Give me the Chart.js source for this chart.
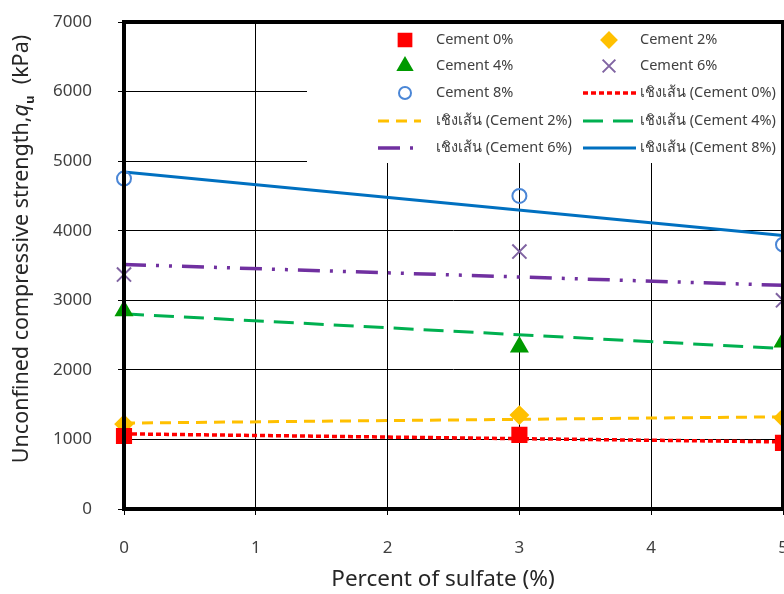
<!DOCTYPE html>
<html lang="th">
<head>
<meta charset="UTF-8">
<title>Unconfined compressive strength vs sulfate</title>
<style>
    body { margin: 0; background: #fff; }
    #wrap { width: 784px; height: 594px; overflow: hidden; }
</style>
</head>
<body>
<div id="wrap"><canvas id="myChart" width="820" height="594"></canvas></div>

<script src="https://cdn.jsdelivr.net/npm/chart.js"></script>
<script>
    // measured points
    const sulfate = [0, 3, 5];
    const cement0 = [1050, 1065, 950];
    const cement2 = [1220, 1350, 1310];
    const cement4 = [2850, 2330, 2400];
    const cement6 = [3370, 3700, 3000];
    const cement8 = [4750, 4500, 3800];

    // linear trend lines (end points)
    const trendX = [0, 5];
    const trend0 = [1080, 965];
    const trend2 = [1235, 1325];
    const trend4 = [2805, 2305];
    const trend6 = [3515, 3215];
    const trend8 = [4845, 3930];

    const xTicks = [0, 1, 2, 3, 4, 5];
    const yTicks = [0, 1000, 2000, 3000, 4000, 5000, 6000, 7000];

    const labels = ['Cement 0%', 'Cement 2%', 'Cement 4%', 'Cement 6%', 'Cement 8%'];
    const trendPrefix = 'เชิงเส้น';
    const xTitle = 'Percent of sulfate (%)';

    const FONT = "'Noto Sans', 'DejaVu Sans', sans-serif";

    function pts(xs, ys) {
        return xs.map((x, i) => ({ x: x, y: ys[i] }));
    }

    const markerSets = [
        { data: cement0, pointStyle: 'rect', radius: 10, color: '#ff0000', fill: true },
        { data: cement2, pointStyle: 'rectRot', radius: 8.5, color: '#ffc000', fill: true },
        { data: cement4, pointStyle: 'triangle', radius: 9, color: '#009a00', fill: true },
        { data: cement6, pointStyle: 'crossRot', radius: 10, color: '#8064a2', fill: false },
        { data: cement8, pointStyle: 'circle', radius: 7, color: '#4a86d6', fill: false }
    ];
    const trendSets = [
        { data: trend0, color: '#ff0000', dash: [5, 3], width: 3.5 },
        { data: trend2, color: '#ffc000', dash: [11, 7], width: 3 },
        { data: trend4, color: '#00b050', dash: [20, 10], width: 3 },
        { data: trend6, color: '#7030a0', dash: [22, 10, 3, 10, 3, 10], width: 3.5 },
        { data: trend8, color: '#0070c0', dash: [], width: 3 }
    ];

    let datasets = [];
    markerSets.forEach((m, i) => {
        datasets.push({
            label: labels[i],
            data: pts(sulfate, m.data),
            showLine: false,
            pointStyle: m.pointStyle,
            pointRadius: m.radius,
            pointHoverRadius: m.radius,
            pointBorderWidth: 2,
            borderColor: m.color,
            backgroundColor: m.fill ? m.color : 'rgba(0,0,0,0)',
            clip: false,
            order: 0
        });
    });
    trendSets.forEach((t, i) => {
        datasets.push({
            label: trendPrefix + ' (' + labels[i] + ')',
            data: pts(trendX, t.data),
            showLine: true,
            pointRadius: 0,
            borderColor: t.color,
            borderWidth: t.width,
            borderDash: t.dash,
            clip: false,
            order: 1
        });
    });

    // legend layout: [column, row, kind, index]
    const legendItems = [
        [0, 0, 'm', 0], [1, 0, 'm', 1],
        [0, 1, 'm', 2], [1, 1, 'm', 3],
        [0, 2, 'm', 4], [1, 2, 't', 0],
        [0, 3, 't', 1], [1, 3, 't', 2],
        [0, 4, 't', 3], [1, 4, 't', 4]
    ];

    const chartDeco = {
        id: 'chartDeco',
        beforeDatasetsDraw(chart) {
            const ctx = chart.ctx;
            const a = chart.chartArea;
            // white legend box over the grid
            ctx.save();
            ctx.fillStyle = '#ffffff';
            ctx.fillRect(a.left + 183, a.top, a.right - a.left - 183, 141);
            ctx.restore();
        },
        afterDatasetsDraw(chart) {
            const ctx = chart.ctx;
            const a = chart.chartArea;
            ctx.save();
            // thick frame
            ctx.strokeStyle = '#000';
            ctx.lineWidth = 4;
            ctx.strokeRect(a.left, a.top, a.right - a.left, a.bottom - a.top);

            // legend
            const rowY = [18, 44, 71, 99, 126];
            const markX = [281, 485];
            const textX = [312, 516];
            const lineX = [[254, 297], [459, 512]];
            ctx.font = '14.5px ' + FONT;
            ctx.textBaseline = 'middle';
            ctx.textAlign = 'left';
            legendItems.forEach(it => {
                const col = it[0], row = it[1], kind = it[2], idx = it[3];
                const y = a.top + rowY[row];
                let text;
                if (kind === 'm') {
                    const m = markerSets[idx];
                    ctx.strokeStyle = m.color;
                    ctx.fillStyle = m.fill ? m.color : 'rgba(0,0,0,0)';
                    ctx.lineWidth = 2;
                    Chart.helpers.drawPoint(ctx, {
                        pointStyle: m.pointStyle,
                        radius: m.pointStyle === 'circle' ? 6 : m.radius - 1,
                        rotation: 0,
                        borderWidth: 2
                    }, a.left + markX[col], y);
                    text = labels[idx];
                } else {
                    const t = trendSets[idx];
                    ctx.strokeStyle = t.color;
                    ctx.lineWidth = t.width;
                    ctx.setLineDash(t.dash);
                    ctx.beginPath();
                    ctx.moveTo(a.left + lineX[col][0], y);
                    ctx.lineTo(a.left + lineX[col][1], y);
                    ctx.stroke();
                    ctx.setLineDash([]);
                    text = trendPrefix + ' (' + labels[idx] + ')';
                }
                ctx.fillStyle = '#404040';
                ctx.fillText(text, a.left + textX[col], y);
            });

            // x axis title
            ctx.fillStyle = '#262626';
            ctx.font = '22.5px ' + FONT;
            ctx.textAlign = 'center';
            ctx.fillText(xTitle, 443, 580);

            // y axis title with italic q and subscript u
            const cx = 22, cy = 249;
            ctx.translate(cx, cy);
            ctx.rotate(-Math.PI / 2);
            const mainFont = '21.5px ' + FONT;
            const qFont = 'italic 21.5px ' + FONT;
            const subFont = 'bold 13px ' + FONT;
            const p1 = 'Unconfined compressive strength,';
            const p2 = 'q';
            const p3 = 'u';
            const p4 = '  (kPa)';
            ctx.font = mainFont; const w1 = ctx.measureText(p1).width; const w4 = ctx.measureText(p4).width;
            ctx.font = qFont; const w2 = ctx.measureText(p2).width;
            ctx.font = subFont; const w3 = ctx.measureText(p3).width;
            let x = -(w1 + w2 + w3 + w4) / 2;
            ctx.textAlign = 'left';
            ctx.textBaseline = 'middle';
            ctx.font = mainFont; ctx.fillText(p1, x, 0); x += w1;
            ctx.font = qFont; ctx.fillText(p2, x, 0); x += w2;
            ctx.font = subFont; ctx.fillText(p3, x, 8); x += w3;
            ctx.font = mainFont; ctx.fillText(p4, x, 0);
            ctx.restore();
        }
    };

    const ctx = document.querySelector('#myChart');
    new Chart(ctx, {
        type: 'scatter',
        data: { datasets: datasets },
        options: {
            responsive: false,
            animation: false,
            events: [],
            layout: { padding: { top: 22, right: 37, left: 0, bottom: 0 } },
            plugins: {
                legend: { display: false },
                tooltip: { enabled: false }
            },
            scales: {
                x: {
                    type: 'linear',
                    min: 0,
                    max: 5,
                    afterBuildTicks: s => { s.ticks = xTicks.map(v => ({ value: v })); },
                    afterFit: s => { s.height = 85; s.paddingLeft = 0; s.paddingRight = 0; },
                    grid: { color: '#000', lineWidth: 1, tickLength: 6, tickColor: '#000' },
                    border: { display: false },
                    ticks: {
                        color: '#404040',
                        font: { family: FONT, size: 17 },
                        padding: 23,
                        callback: v => String(v)
                    }
                },
                y: {
                    type: 'linear',
                    min: 0,
                    max: 7000,
                    afterBuildTicks: s => { s.ticks = yTicks.map(v => ({ value: v })); },
                    afterFit: s => { s.width = 124; s.paddingTop = 0; s.paddingBottom = 0; },
                    grid: { color: '#000', lineWidth: 1, tickLength: 6, tickColor: '#000' },
                    border: { display: false },
                    ticks: {
                        color: '#404040',
                        font: { family: FONT, size: 17 },
                        padding: 26,
                        callback: v => String(v)
                    }
                }
            }
        },
        plugins: [chartDeco]
    });
</script>
</body>
</html>
